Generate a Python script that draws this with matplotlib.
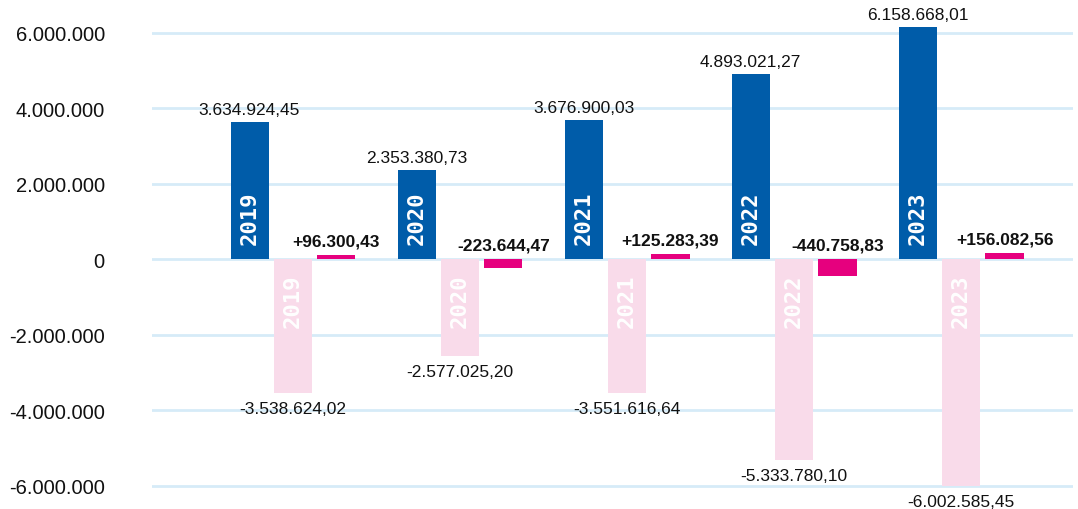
import numpy as np
import matplotlib.pyplot as plt
from matplotlib.ticker import FuncFormatter

years = ["2019", "2020", "2021", "2022", "2023"]
income = [3634924.45, 2353380.73, 3676900.03, 4893021.27, 6158668.01]
expenses = [-3538624.02, -2577025.20, -3551616.64, -5333780.10, -6002585.45]
result = [96300.43, -223644.47, 125283.39, -440758.83, 156082.56]

BLUE = "#005ca9"
PINK = "#f9dbea"
MAGENTA = "#e6007e"
GRID = "#d6ebf8"


def de(v, decimals=2, sign=False):
    s = f"{v:+,.{decimals}f}" if sign else f"{v:,.{decimals}f}"
    return s.replace(",", "X").replace(".", ",").replace("X", ".")


plt.rcParams["font.family"] = ["Liberation Sans", "DejaVu Sans"]

fig = plt.figure(figsize=(10.78, 5.10), dpi=100)
ax = fig.add_axes([152 / 1078, 0, (1073 - 152) / 1078, 1])

x = np.arange(len(years))
w = 0.228
off = 0.26
px = 13.51e6 / 510  # data units per pixel

ax.bar(x - off, income, w, color=BLUE, zorder=3)
ax.bar(x, expenses, w, color=PINK, zorder=3)
ax.bar(x + off, result, w, color=MAGENTA, zorder=3)

for i, yr in enumerate(years):
    ax.text(x[i] - off, income[i] + 5 * px, de(income[i]), ha="center", va="bottom",
            fontsize=12.5, color="#111111")
    ax.text(x[i], expenses[i] - 8 * px, de(expenses[i]), ha="center", va="top",
            fontsize=12.5, color="#111111")
    ax.text(x[i] + off, max(result[i], 0) + 7 * px, de(result[i], sign=True), ha="center",
            va="bottom", fontsize=12.5, fontweight="bold", color="#111111")
    ax.text(x[i] - off, 15 * px, yr, rotation=90, ha="center", va="bottom", color="white",
            fontsize=16, fontweight="bold", family="DejaVu Sans Mono")
    ax.text(x[i], -14 * px, yr, rotation=90, ha="center", va="top", color="white",
            fontsize=16, fontweight="bold", family="DejaVu Sans Mono")

ax.set_xlim(-0.844, 4.67)
ax.set_ylim(-6.62e6, 6.89e6)
ax.set_yticks(np.arange(-6e6, 6.1e6, 2e6))
ax.yaxis.set_major_formatter(FuncFormatter(lambda v, p: de(v, 0)))
ax.tick_params(axis="y", length=0, pad=34, labelsize=14.5, labelcolor="#111111")
ax.set_xticks([])
ax.grid(axis="y", color=GRID, linewidth=2, zorder=0)
for s in ax.spines.values():
    s.set_visible(False)

fig.savefig("out.png", dpi=100)
